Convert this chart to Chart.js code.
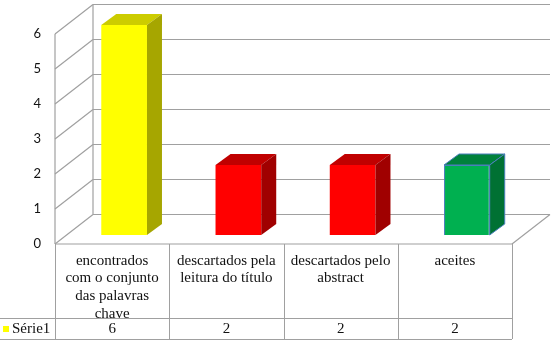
<!DOCTYPE html>
<html>
<head>
<meta charset="utf-8">
<script src="https://cdn.jsdelivr.net/npm/chart.js@4/dist/chart.umd.min.js"></script>
<style>
  html, body { margin: 0; padding: 0; background: #fff; }
</style>
</head>
<body>
<canvas id="chart" width="556" height="347"></canvas>
<script>
// data
const categories = [
  ['encontrados', 'com o conjunto', 'das palavras', 'chave'],
  ['descartados pela', 'leitura do título'],
  ['descartados pelo', 'abstract'],
  ['aceites']
];
const seriesName = 'Série1';
const seriesValues = [6, 2, 2, 2];
const yTicks = [0, 1, 2, 3, 4, 5, 6];

// colours of the 3d boxes (front / top / side)
const frontColors = ['#FFFF00', '#FF0000', '#FF0000', '#00B050'];
const topColors = ['#CCCC00', '#C00000', '#C00000', '#00813B'];
const sideColors = ['#A6A600', '#A00000', '#A00000', '#007133'];
const borderColors = ['#FFFF00', '#FF0000', '#FF0000', '#4A7EBB'];

const WALL = { dx: 38, dy: -29.5 };      // depth of the floor / left wall
const BAR_FRONT = { dx: 12, dy: -9 };    // bars sit a bit back from the front plane
const BAR_DEPTH = { dx: 15, dy: -11 };
const GRID = '#A0A0A0';
const HEADER_H = 74;
const ROW_H = 21;
const SERIF = '"Liberation Serif", "Times New Roman", serif';

function line(ctx, x1, y1, x2, y2) {
  ctx.beginPath();
  ctx.moveTo(x1, y1);
  ctx.lineTo(x2, y2);
  ctx.stroke();
}

function poly(ctx, pts, fill, stroke) {
  ctx.beginPath();
  ctx.moveTo(pts[0][0], pts[0][1]);
  pts.slice(1).forEach(p => ctx.lineTo(p[0], p[1]));
  ctx.closePath();
  ctx.fillStyle = fill;
  ctx.fill();
  if (stroke) {
    ctx.strokeStyle = stroke;
    ctx.lineWidth = 1;
    ctx.stroke();
  }
}

const box3d = {
  id: 'box3d',
  beforeDatasetsDraw(chart) {
    const { ctx, chartArea: a, scales: { y } } = chart;
    ctx.save();
    ctx.strokeStyle = GRID;
    ctx.lineWidth = 1.2;
    // left wall front edge and back wall left edge
    line(ctx, a.left, a.bottom, a.left, a.top);
    line(ctx, a.left + WALL.dx, a.bottom + WALL.dy, a.left + WALL.dx, a.top + WALL.dy);
    // gridlines on the left wall and the back wall
    yTicks.forEach(v => {
      const py = y.getPixelForValue(v);
      line(ctx, a.left, py, a.left + WALL.dx, py + WALL.dy);
      line(ctx, a.left + WALL.dx, py + WALL.dy, a.right + WALL.dx, py + WALL.dy);
    });
    // floor front and right edges
    line(ctx, a.left, a.bottom, a.right, a.bottom);
    line(ctx, a.right, a.bottom, a.right + WALL.dx, a.bottom + WALL.dy);
    ctx.restore();

    // push the bars back into the box
    ctx.save();
    ctx.translate(BAR_FRONT.dx, BAR_FRONT.dy);
  },
  afterDatasetsDraw(chart) {
    const ctx = chart.ctx;
    ctx.restore();
    const meta = chart.getDatasetMeta(0);
    meta.data.forEach((bar, i) => {
      const { x, y, base, width } = bar.getProps(['x', 'y', 'base', 'width'], true);
      const l = x - width / 2 + BAR_FRONT.dx;
      const r = x + width / 2 + BAR_FRONT.dx;
      const t = y + BAR_FRONT.dy;
      const b = base + BAR_FRONT.dy;
      const dx = BAR_DEPTH.dx, dy = BAR_DEPTH.dy;
      const stroke = i === 3 ? borderColors[i] : null;
      poly(ctx, [[l, t], [r, t], [r + dx, t + dy], [l + dx, t + dy]], topColors[i], stroke);
      poly(ctx, [[r, t], [r + dx, t + dy], [r + dx, b + dy], [r, b]], sideColors[i], stroke);
    });
  },
  afterDraw(chart) {
    const { ctx, chartArea: a, scales: { x } } = chart;
    const top = a.bottom;
    const mid = top + HEADER_H;
    const bot = mid + ROW_H;
    ctx.save();
    ctx.strokeStyle = GRID;
    ctx.lineWidth = 1;
    // column borders
    const edges = [x.left];
    for (let i = 0; i < categories.length - 1; i++) {
      edges.push((x.getPixelForValue(i) + x.getPixelForValue(i + 1)) / 2);
    }
    edges.push(x.right);
    edges.forEach(ex => line(ctx, Math.round(ex) + 0.5, top, Math.round(ex) + 0.5, bot));
    line(ctx, 0, mid + 0.5, x.right, mid + 0.5);
    line(ctx, 0, bot + 0.5, x.right, bot + 0.5);

    // series row
    ctx.font = '15px ' + SERIF;
    ctx.fillStyle = '#111';
    ctx.textBaseline = 'middle';
    ctx.textAlign = 'center';
    seriesValues.forEach((v, i) => {
      ctx.fillText(String(v), x.getPixelForValue(i), mid + ROW_H / 2 + 1);
    });
    ctx.textAlign = 'left';
    ctx.fillText(seriesName, 12, mid + ROW_H / 2 + 1);
    ctx.fillStyle = frontColors[0];
    ctx.fillRect(3, mid + 8, 6, 6);
    ctx.restore();
  }
};

new Chart(document.getElementById('chart'), {
  type: 'bar',
  data: {
    labels: categories,
    datasets: [{
      label: seriesName,
      data: seriesValues,
      backgroundColor: frontColors,
      borderColor: borderColors,
      borderWidth: [0, 0, 0, 1],
      barPercentage: 0.4,
      categoryPercentage: 1.0,
      clip: false
    }]
  },
  options: {
    responsive: false,
    animation: false,
    layout: { padding: { top: 34, right: 44, left: 0, bottom: 0 } },
    plugins: {
      legend: { display: false },
      tooltip: { enabled: false }
    },
    scales: {
      x: {
        grid: { display: false, drawTicks: false },
        border: { display: false },
        ticks: {
          padding: 8,
          maxRotation: 0,
          autoSkip: false,
          color: '#111',
          font: { family: SERIF, size: 15, lineHeight: 1.18 }
        },
        afterFit(scale) { scale.height = 103; }
      },
      y: {
        min: 0,
        max: 6,
        grid: { display: false, drawTicks: false },
        border: { display: false },
        ticks: {
          stepSize: 1,
          padding: 14,
          color: '#111',
          font: { family: 'Lato, "Open Sans", sans-serif', size: 13 }
        },
        afterFit(scale) { scale.width = 55; }
      }
    }
  },
  plugins: [box3d]
});
</script>
</body>
</html>
